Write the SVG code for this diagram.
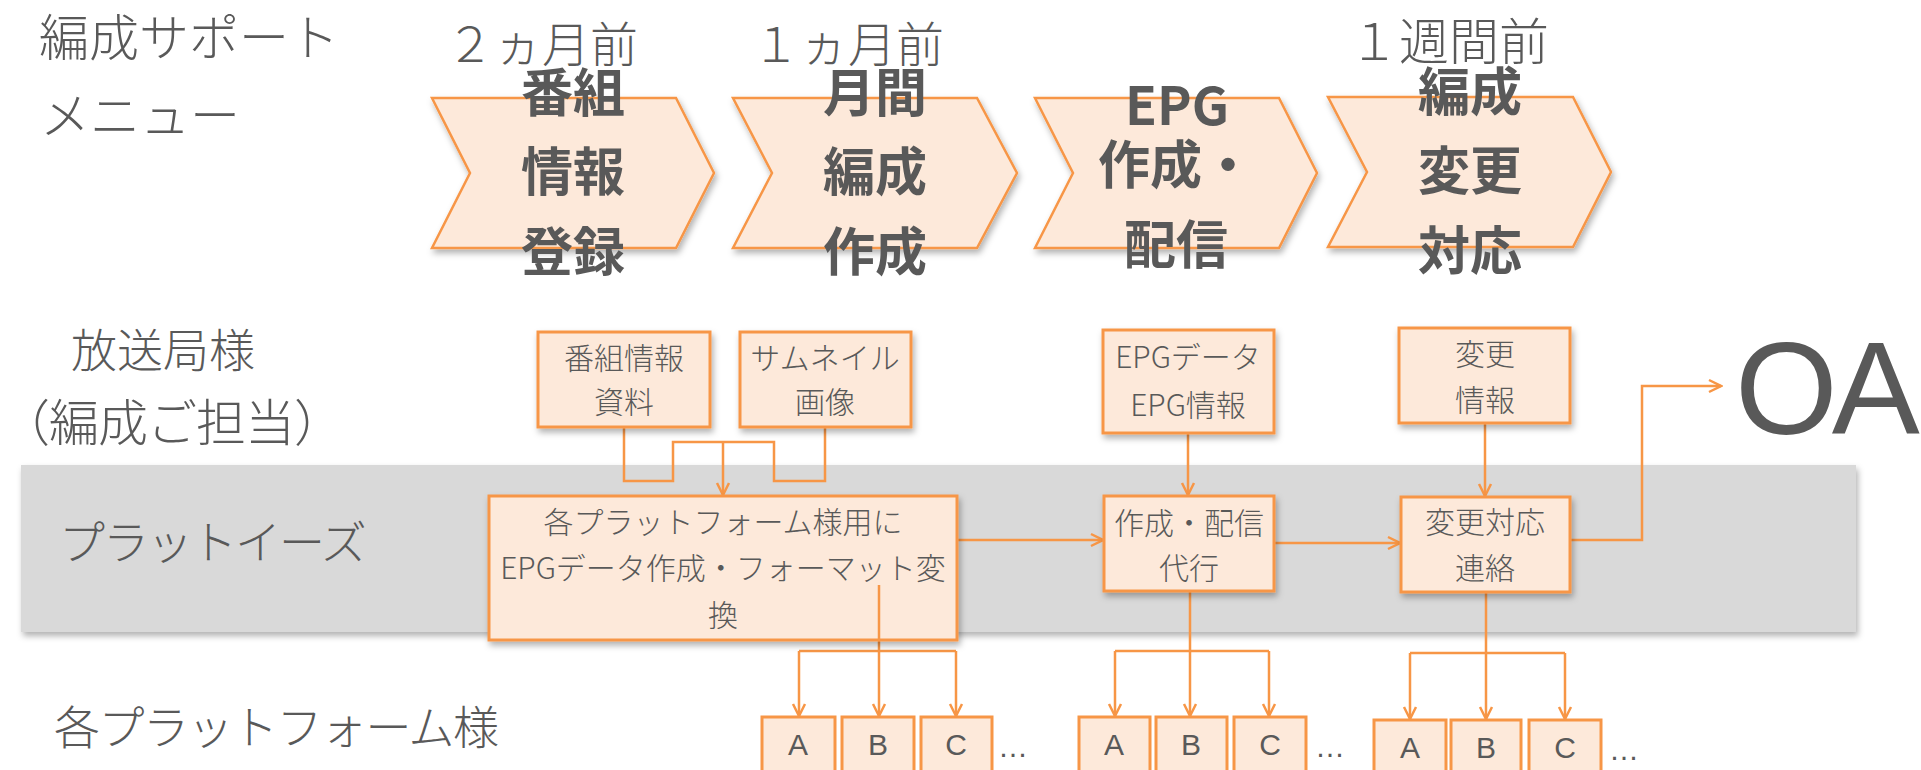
<svg xmlns="http://www.w3.org/2000/svg" width="1921" height="770" viewBox="0 0 1921 770">
<style>
text{font-family:"Noto Sans CJK JP","Noto Sans",sans-serif;fill:#595959}
.lbl{font-size:48px;font-weight:300}
.date{font-size:48px;font-weight:300}
.chev-t{font-size:52px;font-weight:700;text-anchor:middle}
.bt{font-size:30px;font-weight:300;text-anchor:middle}
.abc{font-family:"Liberation Sans",Arial,sans-serif;font-size:30px;text-anchor:middle}
.dots{font-family:"Liberation Sans",Arial,sans-serif;font-size:30px}
.chev{fill:#FDE9DA;stroke:#F79646;stroke-width:2.5}
.box{fill:#FDE9DA;stroke:#F79646;stroke-width:3}
.con{fill:none;stroke:#F79646;stroke-width:2.5}
</style>
<defs>
<filter id="sh" x="-10%" y="-10%" width="130%" height="140%">
<feDropShadow dx="2" dy="4" stdDeviation="3" flood-color="#000" flood-opacity="0.3"/>
</filter>
<marker id="arr" viewBox="0 0 16 16" refX="14" refY="8" markerWidth="16" markerHeight="16" markerUnits="userSpaceOnUse" orient="auto">
<path d="M2,2 L14,8 L2,14" fill="none" stroke="#F79646" stroke-width="2.5"/>
</marker>
</defs>
<rect width="1921" height="770" fill="#FFFFFF"/>

<g id="band">
<rect x="21" y="465" width="1835" height="167" fill="#D9D9D9" filter="url(#sh)"/>
</g>

<g id="row-labels">
<text class="lbl" x="39" y="56" style="font-size:50px">編成サポート</text>
<text class="lbl" x="40" y="134" style="font-size:50px">メニュー</text>
<text class="lbl" x="163" y="367" text-anchor="middle" style="font-size:46px">放送局様</text>
<text class="lbl" x="0" y="441" style="font-size:50px;letter-spacing:-1px">（編成ご担当）</text>
<text class="lbl" x="59" y="559" style="font-size:46px;letter-spacing:-2px">プラットイーズ</text>
<text class="lbl" x="54" y="744" style="font-size:46px;letter-spacing:-1.5px">各プラットフォーム様</text>
</g>

<g id="timing">
<text class="date" x="446" y="62">２ヵ月前</text>
<text class="date" x="752" y="62">１ヵ月前</text>
<text class="date" x="1349" y="60" style="font-size:50px">１週間前</text>
</g>

<g id="step1">
<polygon class="chev" filter="url(#sh)" points="432,98 676,98 714,173 676,248 432,248 470,173"/>
<text class="chev-t" x="573" y="112">番組</text>
<text class="chev-t" x="573" y="191">情報</text>
<text class="chev-t" x="573" y="271">登録</text>
</g>
<g id="step2">
<polygon class="chev" filter="url(#sh)" points="733,98 977,98 1017,173 977,248 733,248 772,173"/>
<text class="chev-t" x="875" y="112">月間</text>
<text class="chev-t" x="875" y="191">編成</text>
<text class="chev-t" x="875" y="271">作成</text>
</g>
<g id="step3">
<polygon class="chev" filter="url(#sh)" points="1035,98 1279,98 1317,173 1279,248 1035,248 1073,173"/>
<text class="chev-t" x="1177" y="125">EPG</text>
<text class="chev-t" x="1176" y="184">作成・</text>
<text class="chev-t" x="1176" y="264">配信</text>
</g>
<g id="step4">
<polygon class="chev" filter="url(#sh)" points="1328,97 1573,97 1611,172 1573,247 1328,247 1367,172"/>
<text class="chev-t" x="1470" y="111">編成</text>
<text class="chev-t" x="1470" y="190">変更</text>
<text class="chev-t" x="1470" y="270">対応</text>
</g>

<g id="connectors">
<path class="con" d="M624,427 V481 H673 V442 H774 V481 H825 V427"/>
<path class="con" d="M723,442 V495" marker-end="url(#arr)"/>
<path class="con" d="M957,540 H1103" marker-end="url(#arr)"/>
<path class="con" d="M1188,433 V495" marker-end="url(#arr)"/>
<path class="con" d="M1274,543 H1400" marker-end="url(#arr)"/>
<path class="con" d="M1485,423 V496" marker-end="url(#arr)"/>
<path class="con" d="M1570,540 H1642 V386 H1721" marker-end="url(#arr)"/>
<path class="con" d="M879,585 V651 M799,651 H956"/>
<path class="con" d="M799,651 V716" marker-end="url(#arr)"/>
<path class="con" d="M879,651 V716" marker-end="url(#arr)"/>
<path class="con" d="M956,651 V716" marker-end="url(#arr)"/>
<path class="con" d="M1190,591 V651 M1115,651 H1269"/>
<path class="con" d="M1115,651 V716" marker-end="url(#arr)"/>
<path class="con" d="M1190,651 V716" marker-end="url(#arr)"/>
<path class="con" d="M1269,651 V716" marker-end="url(#arr)"/>
<path class="con" d="M1486,592 V653 M1410,653 H1565"/>
<path class="con" d="M1410,653 V719" marker-end="url(#arr)"/>
<path class="con" d="M1486,653 V719" marker-end="url(#arr)"/>
<path class="con" d="M1565,653 V719" marker-end="url(#arr)"/>
</g>

<g id="bangumi-shiryo">
<rect class="box" filter="url(#sh)" x="538" y="332" width="172" height="95"/>
<text class="bt" x="624" y="369">番組情報</text>
<text class="bt" x="624" y="413">資料</text>
</g>
<g id="thumbnail">
<rect class="box" filter="url(#sh)" x="740" y="332" width="171" height="95"/>
<text class="bt" x="825" y="369">サムネイル</text>
<text class="bt" x="825" y="413">画像</text>
</g>
<g id="epg-data">
<rect class="box" filter="url(#sh)" x="1103" y="330" width="171" height="103"/>
<text class="bt" x="1188" y="368">EPGデータ</text>
<text class="bt" x="1188" y="416">EPG情報</text>
</g>
<g id="henkou-info">
<rect class="box" filter="url(#sh)" x="1399" y="328" width="171" height="95"/>
<text class="bt" x="1485" y="365">変更</text>
<text class="bt" x="1485" y="411">情報</text>
</g>
<g id="convert">
<rect class="box" filter="url(#sh)" x="489" y="496" width="468" height="144"/>
<text class="bt" x="723" y="533">各プラットフォーム様用に</text>
<text class="bt" x="723" y="579">EPGデータ作成・フォーマット変</text>
<text class="bt" x="723" y="626">換</text>
</g>
<path class="con" d="M879,585 V640"/>
<g id="sakusei-haishin">
<rect class="box" filter="url(#sh)" x="1104" y="496" width="170" height="95"/>
<text class="bt" x="1189" y="534">作成・配信</text>
<text class="bt" x="1189" y="579">代行</text>
</g>
<g id="henkou-renraku">
<rect class="box" filter="url(#sh)" x="1401" y="497" width="169" height="95"/>
<text class="bt" x="1485" y="533">変更対応</text>
<text class="bt" x="1485" y="579">連絡</text>
</g>

<g id="oa">
<text x="1735" y="434" style="font-family:'Liberation Sans',Arial,sans-serif;font-size:132px;letter-spacing:-6px">OA</text>
</g>

<g id="platforms1">
<rect class="box" x="762" y="717" width="73" height="80"/><text class="abc" x="798" y="755">A</text>
<rect class="box" x="842" y="717" width="72" height="80"/><text class="abc" x="878" y="755">B</text>
<rect class="box" x="921" y="717" width="71" height="80"/><text class="abc" x="956" y="755">C</text>
<text class="dots" x="998" y="757">…</text>
</g>
<g id="platforms2">
<rect class="box" x="1079" y="717" width="71" height="80"/><text class="abc" x="1114" y="755">A</text>
<rect class="box" x="1156" y="717" width="71" height="80"/><text class="abc" x="1191" y="755">B</text>
<rect class="box" x="1234" y="717" width="72" height="80"/><text class="abc" x="1270" y="755">C</text>
<text class="dots" x="1315" y="757">…</text>
</g>
<g id="platforms3">
<rect class="box" x="1374" y="720" width="72" height="80"/><text class="abc" x="1410" y="758">A</text>
<rect class="box" x="1451" y="720" width="70" height="80"/><text class="abc" x="1486" y="758">B</text>
<rect class="box" x="1529" y="720" width="72" height="80"/><text class="abc" x="1565" y="758">C</text>
<text class="dots" x="1609" y="760">…</text>
</g>
</svg>
